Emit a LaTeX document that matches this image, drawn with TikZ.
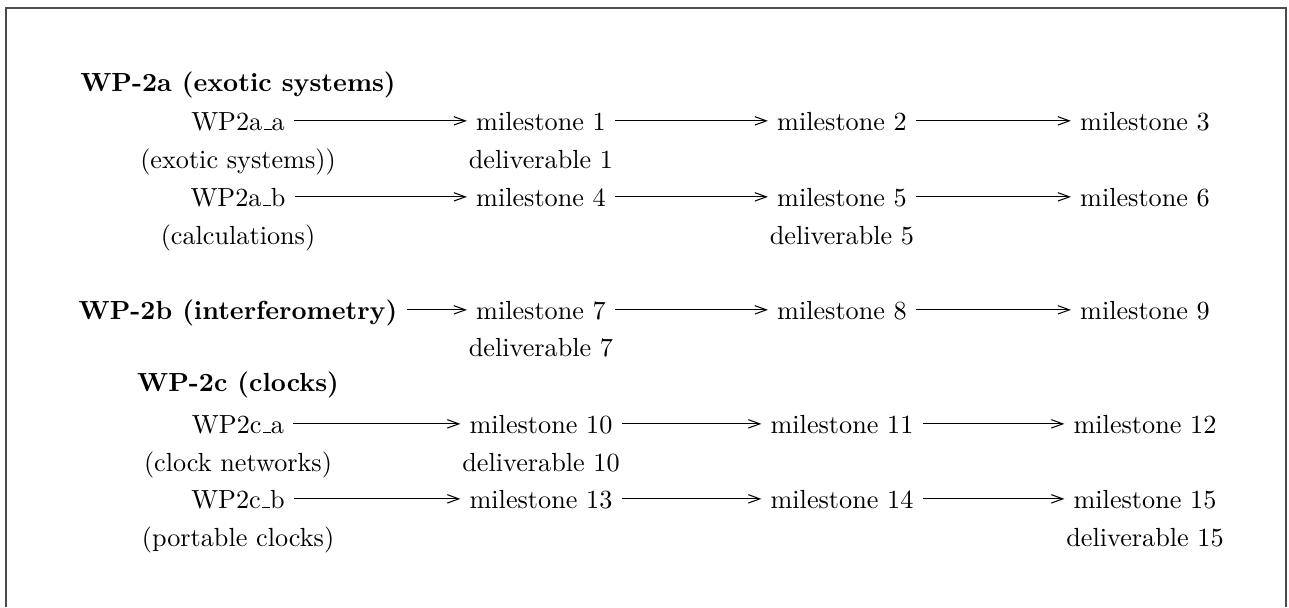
\documentclass[tikz,border=0pt]{standalone}
\usetikzlibrary{arrows.meta}
% short low rule used as the underscore in the labels
\newcommand{\lowbar}{\leavevmode\kern.06em\vbox{\hrule width.3em}}
\begin{document}
\begin{tikzpicture}[x=0.3817pt,y=-0.3817pt,
  lbl/.style={anchor=base, text height=7pt, text depth=0pt},
  head/.style={lbl, font=\bfseries},
  flow/.style={-{Straight Barb[length=4.4pt,width=3.2pt]}, line width=0.4pt},
  frame/.style={draw=black!70, line width=0.55pt}]
\useasboundingbox (0,0) rectangle (1289,607);
% open frame: left, top and right sides
\draw[frame] (6,607) -- (6,8) -- (1286,8) -- (1286,607);

% work package WP-2a
\node[head] (t2a) at (238,91) {WP-2a (exotic systems)};
\node[lbl] (a1)  at (238,130) {WP2a\lowbar a};
\node[lbl] (m1)  at (541,130) {milestone 1};
\node[lbl] (m2)  at (842,130) {milestone 2};
\node[lbl] (m3)  at (1145,130) {milestone 3};
\node[lbl] (a1s) at (238,168) {(exotic systems))};
\node[lbl] (d1)  at (541,168) {deliverable 1};
\node[lbl] (b1)  at (238,206) {WP2a\lowbar b};
\node[lbl] (m4)  at (541,206) {milestone 4};
\node[lbl] (m5)  at (842,206) {milestone 5};
\node[lbl] (m6)  at (1145,206) {milestone 6};
\node[lbl] (b1s) at (238,244) {(calculations)};
\node[lbl] (d5)  at (842,244) {deliverable 5};

% work package WP-2b
\node[head] (t2b) at (238,319) {WP-2b (interferometry)};
\node[lbl] (m7)  at (541,319) {milestone 7};
\node[lbl] (m8)  at (842,319) {milestone 8};
\node[lbl] (m9)  at (1145,319) {milestone 9};
\node[lbl] (d7)  at (541,356) {deliverable 7};

% work package WP-2c
\node[head] (t2c) at (238,391) {WP-2c (clocks)};
\node[lbl] (c1)  at (238,433) {WP2c\lowbar a};
\node[lbl] (m10) at (541,433) {milestone 10};
\node[lbl] (m11) at (842,433) {milestone 11};
\node[lbl] (m12) at (1145,433) {milestone 12};
\node[lbl] (c1s) at (238,471) {(clock networks)};
\node[lbl] (d10) at (541,471) {deliverable 10};
\node[lbl] (c2)  at (238,508) {WP2c\lowbar b};
\node[lbl] (m13) at (541,508) {milestone 13};
\node[lbl] (m14) at (842,508) {milestone 14};
\node[lbl] (m15) at (1145,508) {milestone 15};
\node[lbl] (c2s) at (238,546) {(portable clocks)};
\node[lbl] (d15) at (1145,546) {deliverable 15};

% milestone chains
\draw[flow] (a1) -- (m1);  \draw[flow] (m1) -- (m2);   \draw[flow] (m2) -- (m3);
\draw[flow] (b1) -- (m4);  \draw[flow] (m4) -- (m5);   \draw[flow] (m5) -- (m6);
\draw[flow] (t2b) -- (m7); \draw[flow] (m7) -- (m8);   \draw[flow] (m8) -- (m9);
\draw[flow] (c1) -- (m10); \draw[flow] (m10) -- (m11); \draw[flow] (m11) -- (m12);
\draw[flow] (c2) -- (m13); \draw[flow] (m13) -- (m14); \draw[flow] (m14) -- (m15);
\end{tikzpicture}
\end{document}
